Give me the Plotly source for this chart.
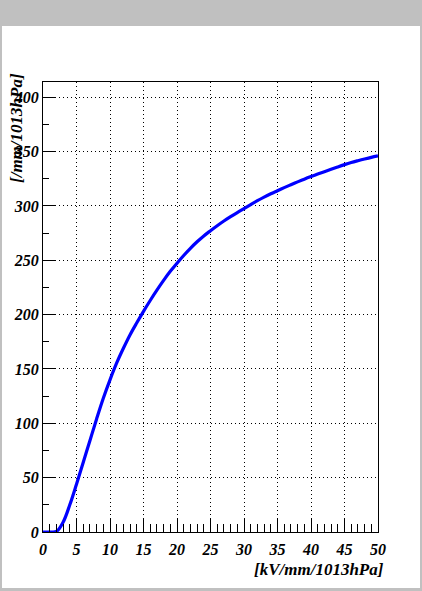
import plotly.graph_objects as go

# Data (value at every 1 kV/mm/1013hPa)
field = list(range(0, 51))
value = [0, 0, 0.5, 9, 25, 44, 64, 84, 104, 123,
         140, 155.5, 169, 181.5, 192.5, 203, 213, 222.5, 231.5, 239.8,
         247.3, 254.4, 261, 267, 272.4, 277.2, 281.8, 286.1, 290.1, 293.9,
         297.5, 301.2, 304.8, 308.1, 311.2, 314, 316.8, 319.5, 322.1, 324.6,
         327, 329.3, 331.5, 333.7, 335.9, 338, 339.9, 341.6, 343.2, 344.7, 346]

x_title = "[kV/mm/1013hPa]"
y_title = "[/mm/1013hPa]"

W, H = 422, 591
L, R, T, B = 43, 44, 82, 59
pw, ph = W - L - R, H - T - B

def px_x(p):
    return (p - L) / pw

def px_y(p):
    return (H - B - p) / ph

font = dict(family="Liberation Serif, Times New Roman, serif", size=16, color="black",
            style="italic", weight="bold")
tfont = dict(font, size=17)

fig = go.Figure()
fig.add_trace(go.Scatter(x=field, y=value, mode="lines",
                         line=dict(color="#0000ff", width=3.2, shape="spline", smoothing=1.0),
                         showlegend=False, hoverinfo="skip"))

fig.update_layout(
    width=W, height=H,
    margin=dict(l=L, r=R, t=T, b=B),
    paper_bgcolor="#c0c0c0",
    plot_bgcolor="white",
    shapes=[dict(type="rect", xref="paper", yref="paper",
                 x0=px_x(2), x1=px_x(420), y0=px_y(588), y1=px_y(26),
                 fillcolor="white", line=dict(width=0), layer="below")],
    annotations=[
        dict(text=y_title, xref="paper", yref="paper", x=px_x(16), y=px_y(128),
             textangle=-90, showarrow=False, xanchor="center", yanchor="middle", font=tfont),
        dict(text=x_title, xref="paper", yref="paper", x=px_x(386), y=px_y(569),
             showarrow=False, xanchor="right", yanchor="middle", font=tfont),
    ],
)

fig.update_xaxes(range=[0, 50], tick0=0, dtick=5, ticks="inside", ticklen=14, tickwidth=1,
                 tickcolor="black", showline=True, linecolor="black", linewidth=1, mirror=True,
                 showgrid=True, gridcolor="black", gridwidth=1, griddash="1px,3px",
                 zeroline=False, tickfont=font, ticklabelstandoff=3,
                 minor=dict(dtick=1, ticks="inside", ticklen=8, tickcolor="black", showgrid=False))
fig.update_yaxes(range=[0, 414], tick0=0, dtick=50, ticks="inside", ticklen=12, tickwidth=1,
                 tickcolor="black", showline=True, linecolor="black", linewidth=1, mirror=True,
                 showgrid=True, gridcolor="black", gridwidth=1, griddash="1px,3px",
                 zeroline=False, tickfont=font,
                 minor=dict(dtick=25, ticks="inside", ticklen=6, tickcolor="black", showgrid=False))

fig.write_html("out.html", config={"displayModeBar": False},
               post_script="document.body.style.margin='0';document.body.style.overflow='hidden';")
